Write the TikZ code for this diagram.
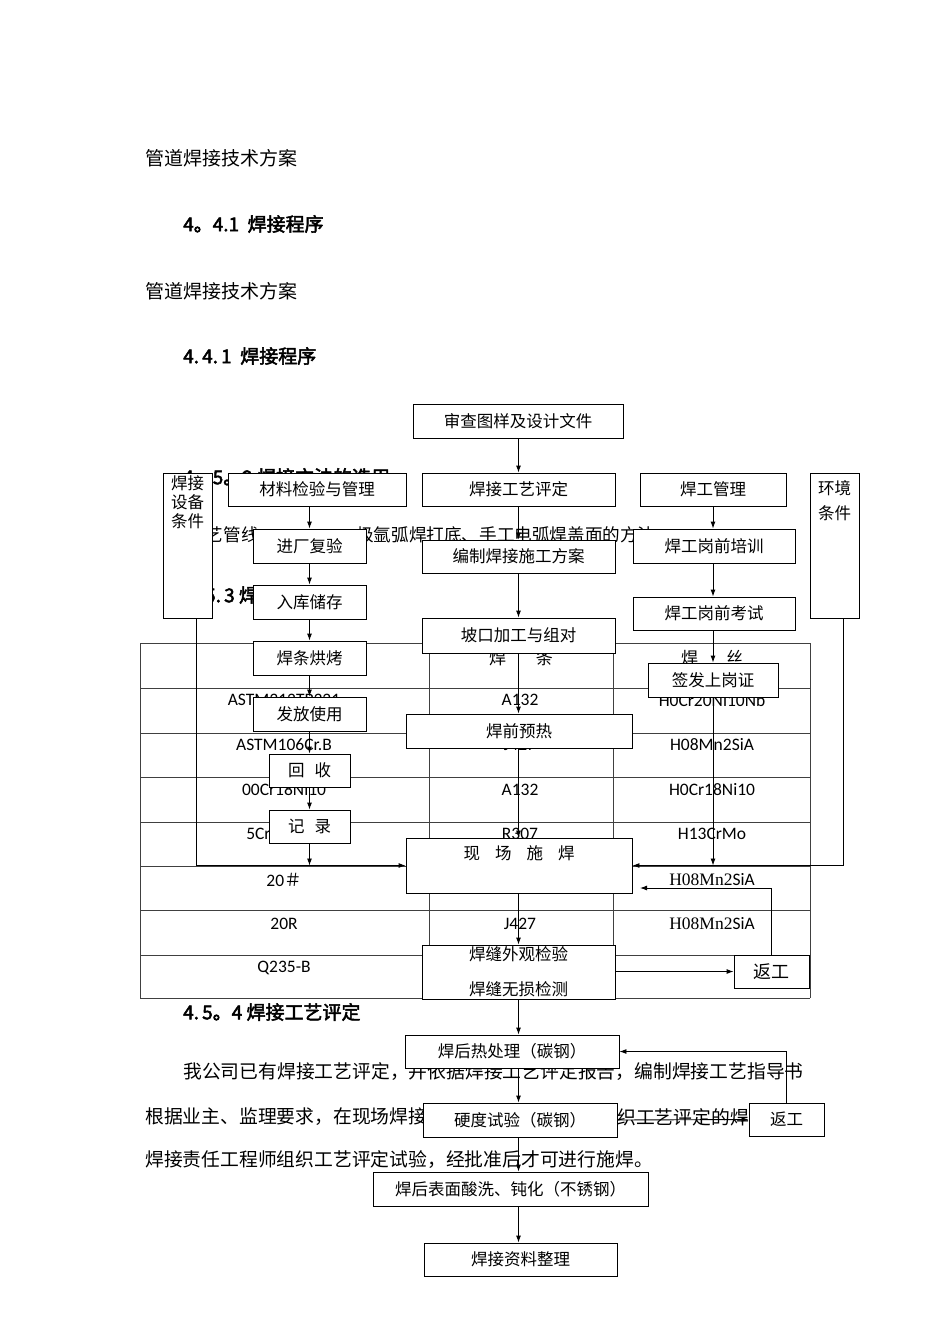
\documentclass[tikz,border=0pt]{standalone}
\usepackage{fontspec}
\setmainfont{Noto Sans CJK SC}
\newfontfamily\latfont{Carlito}
\newfontfamily\serfont{Liberation Serif}
\newfontfamily\headfont[FakeBold=2.5]{Noto Sans CJK SC}
\usetikzlibrary{arrows.meta}
\tikzset{
    box/.style={draw, fill=white, line width=0.9pt, inner sep=0pt, font=\fontsize{16.5}{19}\selectfont},
    arr/.style={-{Latex[length=7pt,width=5pt]}, line width=0.9pt},
    tabline/.style={draw=black!75, line width=0.7pt},
    cell/.style={font=\latfont\fontsize{17.5}{20}\selectfont, inner sep=0pt},
    title/.style={anchor=west, font=\fontsize{19}{22}\selectfont, inner sep=0pt},
    head/.style={anchor=west, font=\headfont\fontsize{19}{22}\selectfont, inner sep=0pt},
    para/.style={anchor=west, font=\fontsize{18.8}{22}\selectfont, inner sep=0pt}
}

\begin{document}
\begin{tikzpicture}[x=1pt,y=-1pt]
		\useasboundingbox (0,0) rectangle (950,1344);

		% Page text
		\node [title] (t1) at (145,158) {管道焊接技术方案};
		\node [head] (t2) at (183,224) {4。4.1\ \ 焊接程序};
		\node [title] (t3) at (145,291) {管道焊接技术方案};
		\node [head] (t4) at (183,356) {4.\,4.\,1\ \ 焊接程序};
		\node [head] (t5) at (183,477) {4．5。2\ 焊接方法的选用};
		\node [para, font=\fontsize{17.6}{20}\selectfont] (t6a) at (188,535) {工艺管线};
		\node [para, font=\fontsize{17.6}{20}\selectfont] (t6b) at (356,535) {极氩弧焊打底、手工电弧焊盖面的方法};
		\node [head] (t7) at (186,595) {4.\,5.\,3\ 焊材的选用};
		\node [head] (t8) at (183,1012) {4.\,5。4\ 焊接工艺评定};
		\node [para] (t9) at (183,1072) {我公司已有焊接工艺评定，并依据焊接工艺评定报告，编制焊接工艺指导书};
		\node [para] (t10a) at (145,1117) {根据业主、监理要求，在现场焊接};
		\node [para] (t10b) at (617,1117) {织工艺评定的焊};
		\node [para] (t11) at (145,1160) {焊接责任工程师组织工艺评定试验，经批准后才可进行施焊。};

		% Table
		\foreach \y in {643,688,733,777,822,866,910,955,998}
			\draw [tabline] (140,\y) -- (810,\y);
		\foreach \x in {140,429,613,810}
			\draw [tabline] (\x,643) -- (\x,998);
		\foreach \t/\y [count=\i] in {ASTM312TP321/700, ASTM106Cr.B/745, 00Cr18Ni10/790, 5Cr-0.5Mo/834, {20{\rmfamily ＃}}/880, 20R/924, Q235-B/968}
			\node [cell] (ca\i) at (284,\y) {\t};
		\foreach \t/\y [count=\i] in {A132/700, J427/745, A132/790, R307/834, J427/924}
			\node [cell] (cb\i) at (520,\y) {\t};
		\foreach \t/\y [count=\i] in {H0Cr20Ni10Nb/700, H08Mn2SiA/745, H0Cr18Ni10/790, H13CrMo/834, {{\serfont H08Mn2}SiA}/880, {{\serfont H08Mn2}SiA}/924}
			\node [cell] (cc\i) at (712,\y) {\t};
		\node [cell, font=\fontsize{17}{20}\selectfont] (hb) at (521,658) {焊\hspace{30pt}条};
		\node [cell, font=\fontsize{17}{20}\selectfont] (hc) at (712,658) {焊\hspace{28pt}丝};

		% Side conditions
		\node [box, minimum width=49pt, minimum height=145pt] (shebei) at (187.5,545.5) {};
		\node [anchor=north, align=center, inner sep=0pt, font=\fontsize{16.5}{19}\selectfont] (shebeit) at ([yshift=-3pt]shebei.north) {焊接\\设备\\条件};
		\node [box, minimum width=49pt, minimum height=145pt] (huanjing) at (834.5,545.5) {};
		\node [anchor=north, align=center, inner sep=0pt, font=\fontsize{16.5}{25}\selectfont] (huanjingt) at ([yshift=-8pt]huanjing.north) {环境\\条件};

		% Top
		\node [box, minimum width=210pt, minimum height=34pt] (shencha) at (518,421) {审查图样及设计文件};

		% Material column
		\node [box, minimum width=178pt, minimum height=33pt] (cailiao) at (317,489.5) {材料检验与管理};
		\node [box, minimum width=113pt, minimum height=34pt] (jinchang) at (309.5,546) {进厂复验};
		\node [box, minimum width=113pt, minimum height=34pt] (ruku) at (309.5,602) {入库储存};
		\node [box, minimum width=113pt, minimum height=34pt] (hongkao) at (309.5,658) {焊条烘烤};
		\node [box, minimum width=113pt, minimum height=34pt] (fafang) at (309.5,714) {发放使用};
		\node [box, minimum width=81pt, minimum height=33pt] (huishou) at (309.5,770.5) {回\hspace{10pt}收};
		\node [box, minimum width=81pt, minimum height=33pt] (jilu) at (309.5,826.5) {记\hspace{10pt}录};

		% Procedure column
		\node [box, minimum width=193pt, minimum height=33pt] (gongyi) at (518.5,489.5) {焊接工艺评定};
		\node [box, minimum width=193pt, minimum height=33pt] (bianzhi) at (518.5,556.5) {编制焊接施工方案};
		\node [box, minimum width=193pt, minimum height=35pt] (pokou) at (518.5,635.5) {坡口加工与组对};
		\node [box, minimum width=226pt, minimum height=34pt] (yure) at (519,731) {焊前预热};
		\node [box, minimum width=226pt, minimum height=55pt] (shihan) at (519,865.5) {};
		\node [anchor=north, inner sep=0pt, font=\fontsize{16.5}{19}\selectfont] (shihant) at ([yshift=-8pt]shihan.north) {现\hspace{15pt}场\hspace{15pt}施\hspace{15pt}焊};
		\node [box, minimum width=193pt, minimum height=54pt] (jianyan) at (518.5,972) {};
		\node [inner sep=0pt, font=\fontsize{16.5}{19}\selectfont] (jianyana) at (518.5,954) {焊缝外观检验};
		\node [inner sep=0pt, font=\fontsize{16.5}{19}\selectfont] (jianyanb) at (518.5,989) {焊缝无损检测};
		\node [box, minimum width=75pt, minimum height=33pt, font=\fontsize{18}{20}\selectfont] (fangong1) at (771.5,971.5) {返工};
		\node [box, minimum width=214pt, minimum height=33pt] (rechuli) at (512,1051.5) {焊后热处理（碳钢）};
		\node [box, minimum width=194pt, minimum height=34pt] (yingdu) at (520,1120) {硬度试验（碳钢）};
		\node [box, minimum width=75pt, minimum height=33pt] (fangong2) at (786.5,1119.5) {返工};
		\node [box, minimum width=275pt, minimum height=34pt] (suanxi) at (510.5,1189) {焊后表面酸洗、钝化（不锈钢）};
		\node [box, minimum width=193pt, minimum height=33pt] (ziliao) at (520.5,1259.5) {焊接资料整理};

		% Welder column
		\node [box, minimum width=146pt, minimum height=33pt] (hangong) at (713,489.5) {焊工管理};
		\node [box, minimum width=162pt, minimum height=34pt] (peixun) at (714,546) {焊工岗前培训};
		\node [box, minimum width=162pt, minimum height=33pt] (kaoshi) at (714,613.5) {焊工岗前考试};
		\node [box, minimum width=130pt, minimum height=34pt] (qianfa) at (713,680) {签发上岗证};

		% Connectors
		\coordinate (axis) at (518.5,0);
		\coordinate (lax) at (196,0);
		\coordinate (rax) at (843,0);
		\coordinate (ret1) at (640,888);
		\foreach \a/\b in {shencha/gongyi, gongyi/bianzhi, bianzhi/pokou, pokou/yure, yure/shihan, shihan/jianyan, jianyan/rechuli, rechuli/yingdu, yingdu/suanxi, suanxi/ziliao}
			\draw [arr] (axis |- \a.south) -- (axis |- \b.north);
		\foreach \a/\b in {cailiao/jinchang, jinchang/ruku, ruku/hongkao, hongkao/fafang, fafang/huishou, huishou/jilu}
			\draw [arr] (jinchang |- \a.south) -- (jinchang |- \b.north);
		\draw [arr] (jilu.south) -- (jilu.south |- shihan.west);
		\foreach \a/\b in {hangong/peixun, peixun/kaoshi, kaoshi/qianfa}
			\draw [arr] (qianfa |- \a.south) -- (qianfa |- \b.north);
		\draw [arr] (qianfa.south) -- (qianfa.south |- shihan.east);
		\draw [arr] (lax |- shebei.south) |- (shihan.west);
		\draw [arr] (rax |- huanjing.south) |- (shihan.east);

		% Rework loops
		\draw [arr] (jianyan.east |- fangong1.west) -- (fangong1.west);
		\draw [arr] (fangong1.north) |- (ret1);
		\draw [arr] (yingdu.east) -- (fangong2.west);
		\draw [arr] (fangong2.north) |- (rechuli.east);

	\end{tikzpicture}
\end{document}
